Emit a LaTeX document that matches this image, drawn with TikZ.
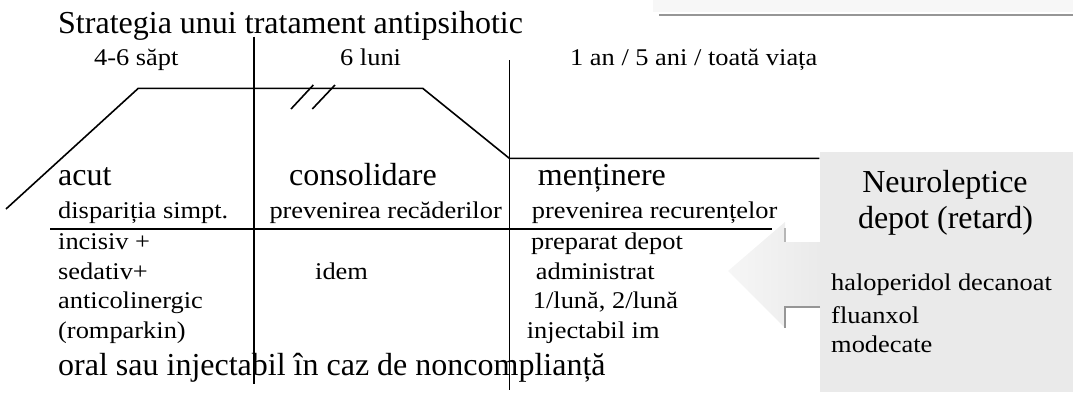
\documentclass[tikz,border=0pt]{standalone}
\usepackage{fontspec}
\setmainfont{Liberation Serif}
\newfontfamily\smfam[FakeStretch=1.1]{Liberation Serif}
\newcommand\bigf{\fontsize{32}{36}\selectfont}
\newcommand\smf{\smfam\fontsize{24}{29}\selectfont}
\definecolor{boxgray}{RGB}{234,234,234}
\definecolor{topgray}{RGB}{247,247,247}
\definecolor{edgegray}{RGB}{150,150,150}
\definecolor{arrowlight}{RGB}{246,246,246}
\begin{document}
\begin{tikzpicture}[x=1pt,y=-1pt,
  big/.style={anchor=base west,inner sep=0pt,font=\bigf},
  sm/.style={anchor=base west,inner sep=0pt,font=\smf},
  bigc/.style={anchor=base,inner sep=0pt,font=\bigf},
  ln/.style={line width=1.6pt,black}]
\useasboundingbox (0,0) rectangle (1073,392);
% top-right strip
\fill[topgray] (653,0) rectangle (1073,12);
\draw[edgegray,line width=2pt] (659,14.5) -- (1073,14.5);
% gray box
\fill[boxgray] (820,151.7) rectangle (1073,392);
% block arrow
\shade[left color=arrowlight,right color=boxgray] (820,242) -- (785,242) -- (785,222) -- (728,271) -- (785,328) -- (785,307) -- (820,307) -- cycle;
\draw[edgegray!70,line width=1.5pt] (785,228) -- (785,242);
\draw[edgegray,line width=1.5pt] (820,307) -- (785,307) -- (785,328);
% coordinates
\coordinate (t0) at (6,209);
\coordinate (t1) at (138.3,88.3);
\coordinate (t2) at (422.7,88.3);
\coordinate (t3) at (509.3,158.3);
\coordinate (t4) at (819.3,158.3);
\coordinate (v1a) at (254,36.7);
\coordinate (v1b) at (254,384);
\coordinate (v2a) at (509.3,60);
\coordinate (v2b) at (509.3,390);
\coordinate (h1) at (50,229);
\coordinate (h2) at (771.7,229);
% lines
\draw[ln] (t0) -- (t1) -- (t2) -- (t3) -- (t4);
\draw[ln] (v1a) -- (v1b);
\draw[ln] (v2a) -- (v2b);
\draw[ln] (h1) -- (h2);
\coordinate (s1a) at (291,109); \coordinate (s1b) at (313.3,85);
\coordinate (s2a) at (312.3,109); \coordinate (s2b) at (335,85);
\draw[ln] (s1a) -- (s1b);
\draw[ln] (s2a) -- (s2b);
% texts
\node[big] (title) at (58,33.4) {Strategia unui tratament antipsihotic};
\node[sm] (d1) at (94,65.7) {4-6 săpt};
\node[sm] (d2) at (340,65.7) {6 luni};
\node[sm] (d3) at (570,65.7) {1 an / 5 ani / toată viața};
\node[big] (p1) at (58,185) {acut};
\node[big] (p2) at (289,185) {consolidare};
\node[big] (p3) at (537.7,185) {menținere};
\node[sm] (g1) at (58,218) {dispariția simpt.};
\node[sm] (g2) at (269.3,218) {prevenirea recăderilor};
\node[sm] (g3) at (531.7,218) {prevenirea recurențelor};
\node[sm] (a1) at (58,249.3) {incisiv +};
\node[sm] (a2) at (58,279) {sedativ+};
\node[sm] (a3) at (58,308.3) {anticolinergic};
\node[sm] (a4) at (58,338.3) {(romparkin)};
\node[sm] (b1) at (315,279) {idem};
\node[sm] (c1) at (531,249.3) {preparat depot};
\node[sm] (c2) at (535.7,279) {administrat};
\node[sm] (c3) at (532.7,308.3) {1/lună, 2/lună};
\node[sm] (c4) at (526.7,338.3) {injectabil im};
\node[big] (oral) at (58,375) {oral sau injectabil în caz de noncomplianță};
\node[bigc] (n1) at (945,192.7) {Neuroleptice};
\node[bigc] (n2) at (945.5,228) {depot (retard)};
\node[sm] (m1) at (831,290.7) {haloperidol decanoat};
\node[sm] (m2) at (831,323.3) {fluanxol};
\node[sm] (m3) at (831,352.7) {modecate};
\end{tikzpicture}
\end{document}
